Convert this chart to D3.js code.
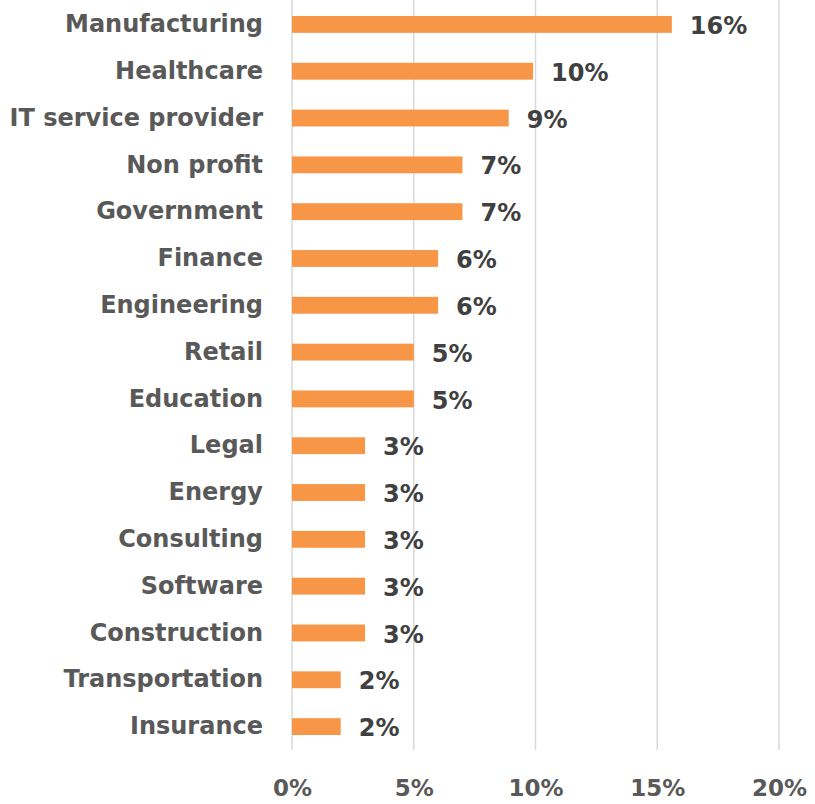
<!DOCTYPE html>
<html>
<head>
<meta charset="utf-8">
<script src="https://cdn.jsdelivr.net/npm/d3@7"></script>
<style>
  body { margin: 0; background: #fff; }
  text { font-family: "DejaVu Sans", sans-serif; font-weight: bold; }
</style>
</head>
<body>
<div id="chart"></div>
<script>
// industries, top to bottom
var industries = ["Manufacturing", "Healthcare", "IT service provider", "Non profit",
  "Government", "Finance", "Engineering", "Retail", "Education", "Legal", "Energy",
  "Consulting", "Software", "Construction", "Transportation", "Insurance"];
// share of respondents (%)
var shares = [15.6, 9.9, 8.9, 7.0, 7.0, 6.0, 6.0, 5.0, 5.0, 3.0, 3.0, 3.0, 3.0, 3.0, 2.0, 2.0];
var ticks = [0, 5, 10, 15, 20];

var width = 815, height = 804;

var svg = d3.select("#chart").append("svg")
    .attr("width", width)
    .attr("height", height);

var x = d3.scaleLinear()
    .domain([0, 20])
    .range([292, 779]);

var y = d3.scaleBand()
    .domain(industries)
    .range([1, 750])
    .paddingInner(0.64)
    .paddingOuter(0.32);

// gridlines
svg.append("g")
    .selectAll("line")
    .data(ticks)
    .enter().append("line")
    .attr("x1", d => x(d))
    .attr("x2", d => x(d))
    .attr("y1", 0)
    .attr("y2", 750)
    .attr("stroke", "#d9d9d9")
    .attr("stroke-width", 1.5);

// x axis labels
var xAxis = d3.axisBottom(x)
    .tickValues(ticks)
    .tickSize(0)
    .tickPadding(0)
    .tickFormat(d => d + "%");

svg.append("g")
    .attr("transform", "translate(0,779)")
    .call(xAxis)
    .call(g => g.select(".domain").remove())
    .selectAll("text")
    .attr("fill", "#595959")
    .style("font-size", "23px")
    .attr("dy", "0.75em");

// y axis labels
var yAxis = d3.axisLeft(y).tickSize(0).tickPadding(29);
svg.append("g")
    .attr("transform", "translate(292,0)")
    .call(yAxis)
    .call(g => g.select(".domain").remove())
    .selectAll("text")
    .attr("fill", "#595959")
    .style("font-size", "24px");

var data = industries.map((d, i) => ({name: d, value: shares[i]}));

// bars
svg.append("g")
    .selectAll("rect")
    .data(data)
    .enter().append("rect")
    .attr("x", x(0))
    .attr("y", d => y(d.name))
    .attr("width", d => x(d.value) - x(0))
    .attr("height", y.bandwidth())
    .attr("fill", "#f79646");

// value labels
svg.append("g")
    .selectAll("text")
    .data(data)
    .enter().append("text")
    .attr("x", d => x(d.value) + 18)
    .attr("y", d => y(d.name) + y.bandwidth() / 2)
    .attr("dy", "0.4em")
    .attr("fill", "#404040")
    .style("font-size", "24px")
    .text(d => Math.round(d.value) + "%");
</script>
</body>
</html>
